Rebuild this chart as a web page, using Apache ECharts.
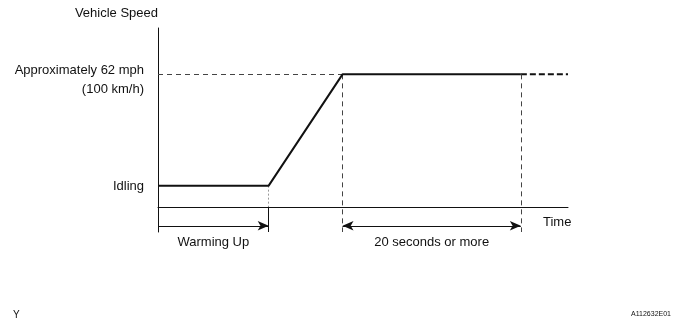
<!DOCTYPE html>
<html>
<head>
<meta charset="utf-8">
<title>Vehicle Speed</title>
<script src="https://cdn.jsdelivr.net/npm/echarts@6/dist/echarts.min.js"></script>
<style>
  html, body { margin: 0; padding: 0; background: #fff; }
  #chart { width: 688px; height: 325px; }
</style>
</head>
<body>
<div id="chart"></div>
<script>
// time points (arbitrary units) and speed levels
var timeWarmEnd = 27
var timeReach = 45
var timeHoldEnd = 88.5
var timeEnd = 100
var speedIdle = 16
var speedTarget = 100
var arrowLevel = -14.3
var tickBottom = -19

var profileData = [[0, speedIdle], [timeWarmEnd, speedIdle], [timeReach, speedTarget], [timeHoldEnd, speedTarget]]
var continueData = [[timeHoldEnd, speedTarget], [timeEnd, speedTarget]]
var levelLabels = [
  { value: [0, speedTarget], name: 'Approximately 62 mph\n(100 km/h)', shift: 6 },
  { value: [0, speedIdle], name: 'Idling', shift: 1 }
]

var labelWarm = 'Warming Up'
var labelHold = '20 seconds or more'

var font = 'Liberation Sans, Arial, sans-serif'
var ink = '#111'

var chart = echarts.init(document.getElementById('chart'))

function seg(a, b, style, extra) {
  var item = [{ coord: a }, { coord: b }]
  item[0].lineStyle = style
  if (extra) Object.assign(item[0], extra)
  return item
}

// arrow line: heads given per end
function arrowSeg(a, b, heads, text) {
  var s = { coord: a, symbol: heads[0], symbolSize: [7, 11], lineStyle: solid,
    label: {
      show: true, position: 'insideMiddleBottom', distance: 10, formatter: text,
      fontFamily: font, fontSize: 13, color: ink
    }
  }
  var e = { coord: b, symbol: heads[1], symbolSize: [7, 11] }
  return [s, e]
}

var thinDash = { color: '#444', width: 1, type: [5, 4] }
var solid = { color: ink, width: 1, type: 'solid' }

chart.setOption({
  animation: false,
  title: [
    { text: 'Y', left: 8, top: 305, textStyle: { fontFamily: font, fontSize: 10, fontWeight: 'normal', color: ink } },
    { text: 'A112632E01', right: 12, top: 306, textStyle: { fontFamily: font, fontSize: 7, fontWeight: 'normal', color: ink } }
  ],
  grid: { left: 158, right: 120, top: 28, bottom: 93 },
  xAxis: {
    type: 'value',
    min: 0,
    max: timeEnd,
    name: 'Time',
    nameLocation: 'end',
    nameGap: -25,
    nameTextStyle: { fontFamily: font, fontSize: 13, color: ink, verticalAlign: 'top', padding: [9, 0, 0, 0] },
    axisLine: { onZero: true, lineStyle: { color: ink, width: 1 } },
    axisTick: { show: false },
    axisLabel: { show: false },
    splitLine: { show: false }
  },
  yAxis: {
    type: 'value',
    min: tickBottom,
    max: 135,
    name: 'Vehicle Speed',
    nameLocation: 'end',
    nameGap: 8,
    nameTextStyle: { fontFamily: font, fontSize: 13, color: ink, align: 'right' },
    axisLine: { show: true, onZero: false, lineStyle: { color: ink, width: 1 } },
    axisTick: { show: false },
    axisLabel: { show: false },
    splitLine: { show: false }
  },
  series: [
    {
      name: 'profile',
      type: 'line',
      data: profileData,
      showSymbol: false,
      lineStyle: { color: ink, width: 2 },
      z: 5
    },
    {
      name: 'continue',
      type: 'line',
      data: continueData,
      showSymbol: false,
      lineStyle: { color: ink, width: 2, type: [6, 3] }
    },
    {
      name: 'levels',
      type: 'scatter',
      clip: false,
      symbolSize: 0,
      silent: true,
      itemStyle: { opacity: 1, color: ink },
      data: levelLabels.map(function (d) {
        return {
          value: d.value,
          name: d.name,
          label: { offset: [0, d.shift] }
        }
      }),
      label: {
        show: true,
        position: 'left',
        distance: 14,
        align: 'right',
        fontFamily: font,
        fontSize: 13,
        lineHeight: 19,
        color: ink,
        formatter: function (p) { return p.name }
      }
    },
    {
      name: 'guides',
      type: 'line',
      data: [],
      markLine: {
        silent: true,
        symbol: 'none',
        animation: false,
        label: { show: false },
        data: [
          seg([0, speedTarget], [timeReach, speedTarget], thinDash),
          seg([timeReach, speedTarget], [timeReach, tickBottom], thinDash),
          seg([timeHoldEnd, speedTarget], [timeHoldEnd, tickBottom], thinDash),
          seg([timeWarmEnd, speedIdle], [timeWarmEnd, 0], { color: '#999', width: 1, type: [2, 2] }),
          seg([timeWarmEnd, 0], [timeWarmEnd, tickBottom], solid),
          arrowSeg([0, arrowLevel], [timeWarmEnd, arrowLevel], ['none', 'arrow'], labelWarm),
          arrowSeg([timeReach, arrowLevel], [timeHoldEnd, arrowLevel], ['arrow', 'arrow'], labelHold)
        ]
      }
    }
  ]
})
</script>
</body>
</html>
